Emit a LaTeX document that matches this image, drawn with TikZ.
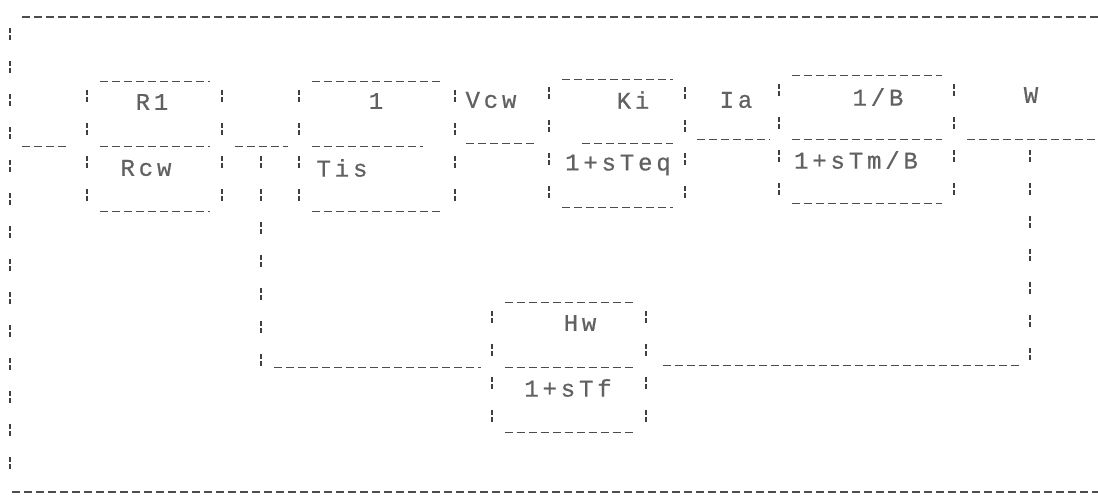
\documentclass[tikz,border=0pt]{standalone}
\usepackage{fontspec}
\newfontfamily\dotmono[LetterSpace=16,FakeBold=0.6]{Liberation Mono}
\usetikzlibrary{calc,positioning}
\tikzset{
  hline/.style={draw=black!70, line width=1.2pt, dash pattern=on 8pt off 4pt},
  vline/.style={draw=black!75, line width=1.5pt, dash pattern=on 5pt off 2pt on 5pt off 21pt},
  blk/.style={rectangle, inner sep=0pt, minimum height=129pt},
  lbl/.style={inner sep=0pt, text=black!62, font=\dotmono\fontsize{24}{24}\selectfont}
}
\begin{document}
\begin{tikzpicture}[x=1pt,y=-1pt]
  \useasboundingbox (0,0) rectangle (1098,496);
  % outer frame
  \draw[hline] (22,17)--(1098,17);
  \draw[vline] (10,28)--(10,488);
  \draw[hline] (12,492)--(1098,492);
  % blocks
  \node[blk, minimum width=110pt] (rcw) at (155,146.5) {};
  \node[blk, minimum width=131pt] (tis) at (377.5,146.5) {};
  \node[blk, minimum width=111pt, minimum height=128pt] (teq) at (617.5,143.5) {};
  \node[blk, minimum width=150pt, minimum height=127pt] (tm) at (867,139.5) {};
  \node[blk, minimum width=129pt] (tf) at (569.5,367.5) {};
  \foreach \b in {rcw,tis,teq,tm,tf}{
    \draw[hline] (\b.north west)--(\b.north east);
    \draw[hline] (\b.south west)--(\b.south east);
    \draw[vline] ([xshift=-13pt,yshift=-8pt]\b.north west)--([xshift=-13pt,yshift=8pt]\b.south west);
    \draw[vline] ([xshift=12pt,yshift=-8pt]\b.north east)--([xshift=12pt,yshift=8pt]\b.south east);
  }
  \draw[hline] (rcw.west)--(rcw.east);
  \draw[hline] (tis.west)--([xshift=-20pt]tis.east);
  \draw[hline] ([xshift=20pt]teq.west)--(teq.east);
  \draw[hline] (tm.west)--(tm.east);
  \draw[hline] (tf.west)--(tf.east);
  % fractions
  \node[lbl] (rcwnum) at (152,102) {R1};
  \node[lbl] (rcwden) at (146,168) {Rcw};
  \node[lbl] (tisnum) at (376,101) {1};
  \node[lbl] (tisden) at (342,168) {Tis};
  \node[lbl] (teqnum) at (633,100) {Ki};
  \node[lbl] (teqden) at (618,165) {1+sTeq};
  \node[lbl] (tmnum) at (878,97) {1/B};
  \node[lbl] (tmden) at (856,160) {1+sTm/B};
  \node[lbl] (tfnum) at (580,323) {Hw};
  \node[lbl] (tfden) at (568,388) {1+sTf};
  % signals
  \node[lbl] (vcw) at (491,100) {Vcw};
  \node[lbl] (ia) at (736,100) {Ia};
  \node[lbl] (w) at (1031,95) {W};
  \coordinate (in) at (22,146.5);
  \coordinate (out) at (1098,139.5);
  \coordinate (ltap) at (261,146.5);
  \coordinate (lbend) at (261,367.5);
  \coordinate (rtap) at (1030,139.5);
  \coordinate (rbend) at (1030,365.5);
  % forward path
  \draw[hline, shorten >=32pt] (in)--(rcw.west);
  \draw[hline, shorten <=25pt, shorten >=24pt] (rcw.east)--(tis.west);
  \draw[hline, shorten <=23pt, shorten >=24pt] (tis.east |- teq.west)--(teq.west);
  \draw[hline, shorten <=24pt, shorten >=22pt] (teq.east |- tm.west)--(tm.west);
  \draw[hline, shorten <=25pt] (tm.east)--(out);
  % feedback
  \draw[vline, shorten <=10pt] (rtap)--(rbend);
  \draw[hline, shorten <=11pt, shorten >=25pt] (rbend)--(tf.east |- rbend);
  \draw[vline, shorten <=9pt] (ltap)--(lbend);
  \draw[hline, shorten <=13pt, shorten >=24pt] (lbend)--(tf.west);
\end{tikzpicture}
\end{document}
